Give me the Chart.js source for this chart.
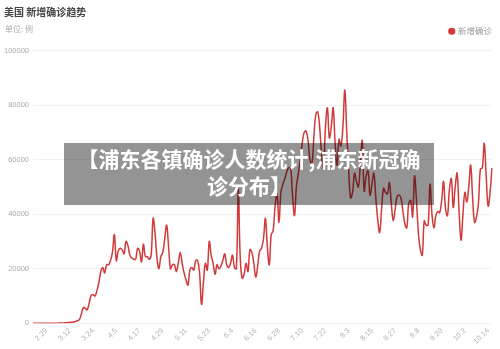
<!DOCTYPE html>
<html>
<head>
<meta charset="utf-8">
<script src="https://cdn.jsdelivr.net/npm/chart.js@4"></script>
<style>
  html, body { margin: 0; padding: 0; background: #fff; }
  #wrap { position: relative; width: 500px; height: 349px; font-family: "Noto Sans CJK SC", sans-serif; }
  #title { position: absolute; left: 4px; top: 4px; font-size: 10px; font-weight: bold; color: #444; }
  #unit { position: absolute; left: 5px; top: 23px; font-size: 8px; color: #aaa; }
  #banner { position: absolute; left: 64px; top: 143px; width: 370px; height: 62px; background: rgba(0,0,0,0.42);
    color: #fff; font-weight: bold; font-size: 21px; line-height: 27px; text-align: center; padding-top: 2px; box-sizing: border-box; }
  canvas { position: absolute; left: 0; top: 0; }
</style>
</head>
<body>
<div id="wrap">
  <canvas id="chart" width="500" height="349"></canvas>
  <div id="title">美国 新增确诊趋势</div>
  <div id="unit">单位: 例</div>
  <div id="banner">【浦东各镇确诊人数统计,浦东新冠确<br>诊分布】</div>
</div>
<script>
const startDay = [2020, 1, 22];
const tickLabels = ['2.29', '3.12', '3.24', '4.5', '4.17', '4.29', '5.11', '5.23', '6.4', '6.16',
  '6.28', '7.10', '7.22', '8.3', '8.15', '8.27', '9.8', '9.20', '10.2', '10.14'];
const yTicks = [0, 20000, 40000, 60000, 80000, 100000];
const seriesName = '新增确诊';

// daily new cases
const newCases = [
  0, 0, 0, 0, 0, 0, 0, 10, 20, 30, 40, 50, 70, 90, 110, 140, 180, 230, 280, 330,
  400, 500, 700, 1000, 1500, 3500, 5800, 5500, 5000, 7500, 10200, 10500, 10000, 12000, 15000, 19000, 20500, 18500, 21500, 21500,
  23000, 26000, 32500, 23000, 26500, 27500, 27000, 25500, 30000, 28500, 25000, 24000, 23500, 23500, 27500, 26500, 22500, 29000, 24500, 24500,
  23500, 25000, 38500, 33000, 24000, 20000, 24500, 26000, 31000, 36000, 28000, 20000, 21500, 21500, 19000, 22000, 26000, 22000, 18500, 16000,
  14000, 19500, 20500, 19500, 23000, 23000, 18500, 7000, 15000, 22000, 19500, 30000, 25000, 22000, 18000, 21500, 20000, 21000, 23000, 25500,
  21500, 20500, 22000, 25000, 20500, 20000, 49000, 24000, 16500, 18000, 22000, 19000, 27000, 26000, 22000, 17000, 21000, 26500, 27500, 31000,
  38500, 28000, 21500, 32500, 34000, 43000, 47500, 37000, 48000, 51000, 53000, 55500, 57000, 57000, 47000, 39500, 50000, 55000, 60000, 66000,
  70000, 70500, 67000, 60000, 58500, 68000, 76500, 77500, 72000, 62000, 56500, 72000, 79000, 68000, 72000, 79000, 66000, 58000, 67500, 65000,
  72000, 85500, 70000, 56000, 46000, 48000, 55000, 52000, 50000, 58000, 67000, 48500, 54000, 56000, 47000, 51000, 55000, 46000, 38000, 33300,
  42000, 49500, 48000, 47500, 51600, 44000, 37700, 42000, 46500, 47000, 46000, 41000, 36500, 35000, 44000, 45000, 39000, 54000, 45000, 33000,
  27000, 25000, 37500, 36000, 36000, 51000, 40000, 35000, 39500, 41000, 40500, 45000, 52000, 42000, 39500, 49000, 53000, 42500, 50000, 55000,
  41000, 30500, 40000, 48000, 44500, 50000, 58000, 46000, 37000, 39000, 44000, 56500, 57000, 66000, 54000, 43000, 48000, 57000
];

const days = newCases.map((_, i) => {
  const d = new Date(Date.UTC(startDay[0], startDay[1], startDay[2] + i));
  return (d.getUTCMonth() + 1) + '.' + d.getUTCDate();
});

const tickFont = { family: '"Liberation Sans", sans-serif', size: 7.5 };

// extra room between legend and plot
const legendGap = {
  id: 'legendGap',
  beforeInit(chart) {
    const fit = chart.legend.fit;
    chart.legend.fit = function () {
      fit.call(this);
      this.height += 5;
    };
  }
};

new Chart(document.getElementById('chart'), {
  type: 'line',
  data: {
    labels: days,
    datasets: [{
      label: seriesName,
      data: newCases,
      borderColor: '#d2393b',
      backgroundColor: '#d2393b',
      borderWidth: 1.5,
      pointRadius: 0,
      tension: 0.4
    }]
  },
  options: {
    responsive: false,
    animation: false,
    layout: { padding: { top: 27, right: 8, left: 0, bottom: 0 } },
    plugins: {
      tooltip: { enabled: false },
      legend: {
        position: 'top',
        align: 'end',
        labels: {
          usePointStyle: true,
          pointStyle: 'circle',
          boxWidth: 4,
          boxHeight: 4,
          padding: 0,
          color: '#999',
          font: { family: '"Noto Sans CJK SC", sans-serif', size: 8.5 }
        }
      }
    },
    scales: {
      x: {
        grid: { display: false, drawTicks: false },
        border: { display: false },
        ticks: {
          autoSkip: false,
          minRotation: 45,
          maxRotation: 45,
          color: '#b5b5b5',
          font: tickFont,
          padding: 3,
          callback: function (v) {
            const l = this.getLabelForValue(v);
            return tickLabels.includes(l) ? l : null;
          }
        }
      },
      y: {
        min: 0,
        max: 100000,
        afterBuildTicks: axis => { axis.ticks = yTicks.map(v => ({ value: v })); },
        grid: { color: '#f1f1f1', drawTicks: false },
        border: { display: false },
        ticks: { color: '#aaa', font: tickFont, padding: 4, callback: v => String(v) }
      }
    }
  },
  plugins: [legendGap]
});
</script>
</body>
</html>
